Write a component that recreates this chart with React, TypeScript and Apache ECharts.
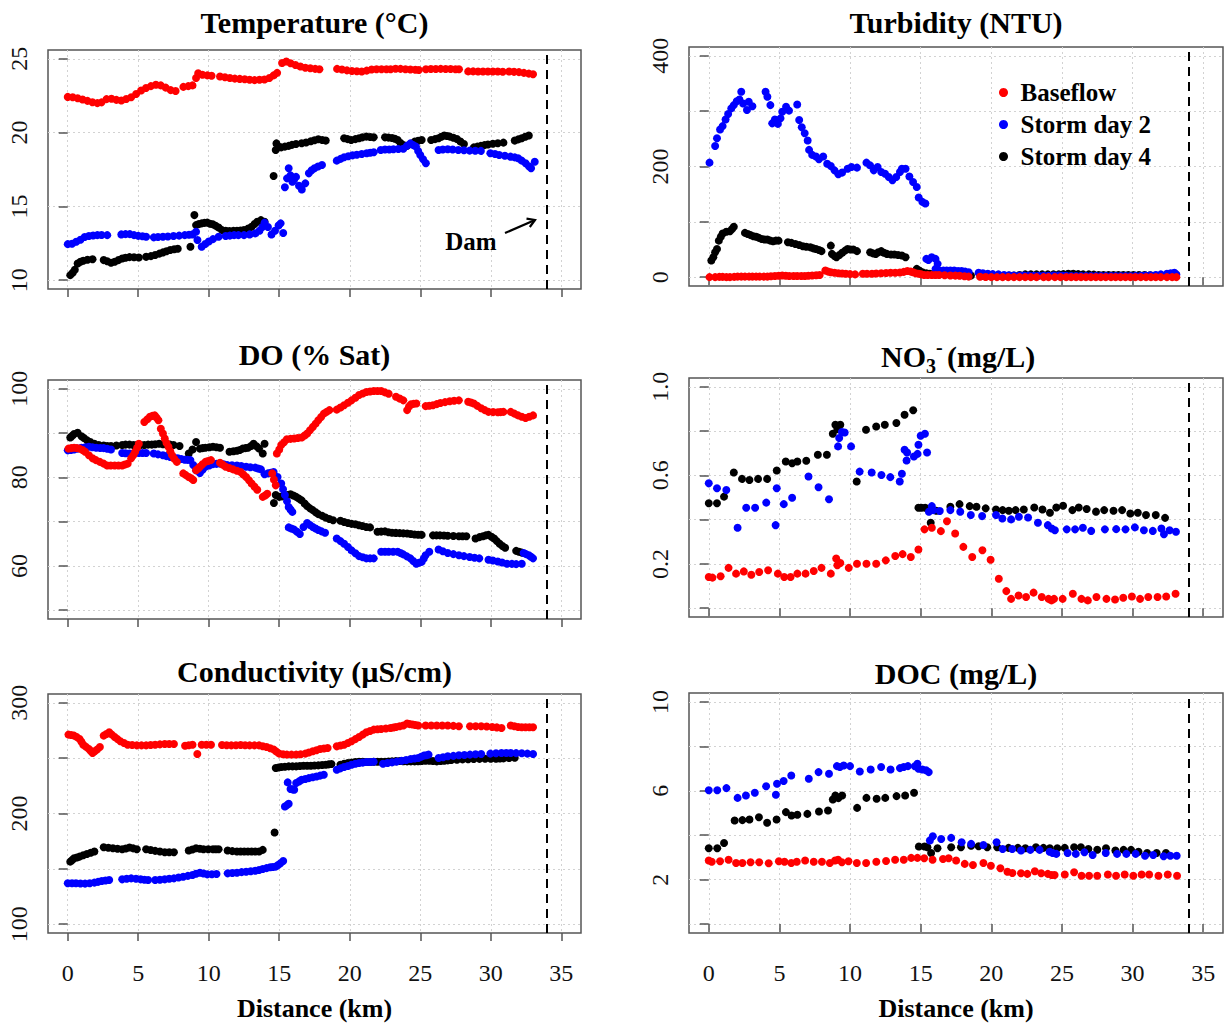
import React, { useEffect, useRef } from "react";
import * as echarts from "echarts";

type Pt = [number, number];

// ---------- Distance axis ----------
const KM_TICKS = [0, 5, 10, 15, 20, 25, 30, 35];
const DAM_KM = 34;
const SERIES_NAMES = ["Baseflow", "Storm day 2", "Storm day 4"];

// ---------- Temperature (°C) ----------
const tempTicks = [10, 15, 20, 25];
const tempLabels = [10, 15, 20, 25];
const tempBase: Pt[] = [
  [0.0, 22.42], [0.35, 22.4], [0.7, 22.33], [1.05, 22.25], [1.4, 22.15], [1.75, 22.06], [2.1, 22.0], [2.4, 22.05], [2.75, 22.27], [3.1, 22.3], [3.45, 22.22], [3.8, 22.18], [4.15, 22.28], [4.5, 22.4], [4.85, 22.62], [5.2, 22.85], [5.55, 23.02], [5.9, 23.15], [6.25, 23.25], [6.6, 23.2], [6.95, 23.05], [7.3, 22.88], [7.65, 22.82],
  [8.2, 23.1], [8.55, 23.15], [8.85, 23.2], [9.1, 23.7], [9.25, 24.02], [9.55, 23.92], [9.9, 23.88], [10.2, 23.85],
  [10.8, 23.8], [11.15, 23.75], [11.5, 23.7], [11.85, 23.66], [12.2, 23.64], [12.55, 23.62], [12.9, 23.58], [13.25, 23.56], [13.6, 23.58], [13.95, 23.6], [14.3, 23.7], [14.6, 23.88], [14.85, 24.05],
  [15.2, 24.72], [15.5, 24.82], [15.8, 24.7], [16.15, 24.58], [16.5, 24.48], [16.85, 24.4], [17.2, 24.36], [17.55, 24.32], [17.85, 24.3],
  [19.1, 24.32], [19.45, 24.28], [19.8, 24.22], [20.15, 24.18], [20.5, 24.16], [20.85, 24.14], [21.2, 24.2], [21.55, 24.28], [21.9, 24.3], [22.25, 24.3], [22.6, 24.3], [22.9, 24.3], [23.25, 24.33], [23.6, 24.32], [23.95, 24.3], [24.3, 24.28], [24.65, 24.26], [24.9, 24.25],
  [25.4, 24.3], [25.75, 24.31], [26.1, 24.31], [26.45, 24.32], [26.8, 24.31], [27.15, 24.31], [27.5, 24.3], [27.75, 24.3],
  [28.4, 24.15], [28.75, 24.15], [29.1, 24.14], [29.45, 24.14], [29.8, 24.14], [30.15, 24.14], [30.5, 24.14], [30.85, 24.13],
  [31.3, 24.14], [31.65, 24.12], [32.0, 24.1], [32.35, 24.05], [32.7, 24.0], [33.0, 23.96],
];
const tempStorm2: Pt[] = [
  [0.0, 12.44], [0.3, 12.47], [0.6, 12.6], [0.9, 12.74], [1.2, 12.92], [1.5, 12.99], [1.8, 13.03], [2.1, 13.05], [2.4, 13.06], [2.8, 13.05],
  [3.8, 13.1], [4.1, 13.12], [4.4, 13.12], [4.7, 13.05], [5.0, 13.0], [5.3, 12.97], [5.56, 12.94],
  [6.1, 12.9], [6.4, 12.92], [6.75, 12.94], [7.1, 12.96], [7.5, 12.99], [7.9, 13.02], [8.3, 13.05], [8.6, 13.08], [8.85, 13.1], [9.1, 13.28], [9.2, 12.72],
  [9.5, 12.26], [9.75, 12.45], [10.0, 12.62], [10.3, 12.78], [10.7, 12.94],
  [11.2, 12.99], [11.5, 13.02], [11.8, 13.05], [12.1, 13.05], [12.5, 13.05], [12.9, 13.1], [13.3, 13.17], [13.6, 13.35], [13.8, 13.6], [13.96, 13.9], [14.2, 13.6], [14.45, 13.1], [14.7, 13.35], [14.95, 13.7], [15.1, 13.85], [15.28, 13.2],
  [15.4, 16.3], [15.55, 16.9], [15.67, 17.58], [15.8, 17.1], [15.93, 16.67], [16.05, 16.8], [16.19, 17.0], [16.4, 16.4], [16.6, 16.15], [16.85, 16.56], [17.1, 17.24], [17.3, 17.45], [17.5, 17.58], [17.75, 17.7], [18.03, 17.8],
  [19.08, 18.1], [19.35, 18.22], [19.6, 18.33], [19.9, 18.4], [20.2, 18.46], [20.5, 18.5], [20.85, 18.55], [21.2, 18.6], [21.45, 18.64], [21.7, 18.67],
  [22.2, 18.82], [22.5, 18.85], [22.8, 18.86], [23.1, 18.87], [23.45, 18.89], [23.8, 18.91], [24.05, 19.1], [24.3, 19.27], [24.5, 19.15], [24.7, 19.05], [24.85, 18.75], [25.0, 18.48], [25.2, 18.2], [25.4, 17.92],
  [26.3, 18.82], [26.6, 18.85], [26.95, 18.87], [27.3, 18.85], [27.7, 18.82], [28.1, 18.8], [28.5, 18.78], [28.9, 18.77], [29.3, 18.76],
  [29.97, 18.6], [30.3, 18.55], [30.6, 18.48], [31.0, 18.43], [31.4, 18.37], [31.7, 18.32], [31.94, 18.26], [32.2, 18.1], [32.47, 17.92], [32.7, 17.72], [32.86, 17.58], [33.12, 18.03],
];
const tempStorm4: Pt[] = [
  [0.18, 10.34], [0.35, 10.5], [0.5, 10.7], [0.7, 11.13], [0.9, 11.25], [1.1, 11.31], [1.4, 11.38], [1.76, 11.42],
  [2.55, 11.36], [2.8, 11.28], [3.07, 11.18], [3.33, 11.25], [3.6, 11.36], [3.86, 11.47], [4.1, 11.52], [4.38, 11.56], [4.7, 11.55], [5.04, 11.54],
  [5.56, 11.58], [5.9, 11.63], [6.2, 11.7], [6.5, 11.8], [6.75, 11.88], [7.0, 11.96], [7.27, 12.04], [7.55, 12.1], [7.8, 12.13],
  [8.7, 12.26], [8.98, 14.41], [9.1, 13.73], [9.3, 13.8], [9.5, 13.85], [9.7, 13.88], [9.9, 13.9], [10.1, 13.82], [10.3, 13.78], [10.5, 13.68], [10.7, 13.57],
  [10.94, 13.39], [11.2, 13.35], [11.47, 13.33], [11.75, 13.34], [12.0, 13.35], [12.25, 13.37], [12.5, 13.4], [12.8, 13.5], [13.04, 13.62], [13.25, 13.8], [13.44, 13.96], [13.7, 14.07], [13.96, 13.96],
  [14.6, 17.06], [14.75, 18.82], [14.8, 19.27], [14.95, 19.05], [15.14, 19.0], [15.4, 19.05], [15.67, 19.1], [15.9, 19.17], [16.19, 19.23],
  [16.59, 19.28], [16.9, 19.33], [17.24, 19.41], [17.5, 19.48], [17.77, 19.55], [18.05, 19.5], [18.3, 19.46],
  [19.6, 19.62], [19.85, 19.56], [20.1, 19.5], [20.4, 19.56], [20.66, 19.62], [20.9, 19.68], [21.18, 19.73], [21.45, 19.7], [21.7, 19.68],
  [22.5, 19.68], [22.75, 19.66], [23.0, 19.64], [23.2, 19.58], [23.4, 19.5], [23.6, 19.3], [23.8, 19.16], [24.07, 19.1], [24.35, 19.25], [24.6, 19.39], [24.85, 19.45], [25.1, 19.5],
  [25.77, 19.5], [26.05, 19.56], [26.3, 19.62], [26.5, 19.72], [26.7, 19.8], [26.9, 19.77], [27.1, 19.73], [27.35, 19.65], [27.6, 19.57], [27.85, 19.4], [28.1, 19.23],
  [28.8, 19.0], [29.05, 19.05], [29.3, 19.1], [29.55, 19.15], [29.8, 19.19], [30.15, 19.24], [30.5, 19.28], [30.9, 19.32],
  [31.7, 19.46], [31.95, 19.54], [32.2, 19.62], [32.45, 19.72], [32.7, 19.8],
];

// ---------- Turbidity (NTU) ----------
const turbTicks = [0, 100, 200, 300, 400];
const turbLabels = [0, 200, 400];
const turbBase: Pt[] = [
  [0.05, 0], [0.45, 0], [0.75, 0.5], [0.98, 0.5], [1.25, 0], [1.5, 0], [1.8, 0.5], [2.04, 1], [2.3, 1], [2.56, 1], [2.85, 1], [3.09, 1], [3.35, 1], [3.6, 1], [3.9, 1], [4.15, 1], [4.4, 1.5], [4.68, 2], [4.95, 2.5], [5.2, 3], [5.45, 2.5], [5.7, 2], [6.0, 2], [6.26, 2], [6.55, 2], [6.8, 2], [7.05, 2.5], [7.32, 3], [7.6, 3.5], [7.85, 4],
  [8.25, 12], [8.45, 10], [8.64, 9], [8.9, 8], [9.17, 7], [9.45, 6.5], [9.7, 6], [10.0, 5.5], [10.36, 5],
  [10.9, 6], [11.2, 6], [11.55, 6], [11.85, 6.5], [12.21, 7], [12.55, 7.5], [12.87, 8], [13.2, 8], [13.53, 8.5], [13.8, 9.5], [14.06, 11], [14.3, 10], [14.46, 9], [14.65, 7], [14.86, 6], [15.05, 5], [15.25, 4], [15.5, 4], [15.78, 4], [16.05, 4], [16.3, 4], [16.7, 3.5], [17.1, 3], [17.45, 2.7], [17.76, 2.4], [18.1, 1.5], [18.4, 1],
  [19.2, 0.6], [19.6, 0.3], [20.0, 0], [20.4, 0], [20.8, 0], [21.2, 0], [21.6, 0], [22.0, 0], [22.4, 0], [22.8, 0], [23.2, 0], [23.7, 0], [24.05, 0], [24.5, 0], [24.9, 0], [25.3, 0], [25.65, 0], [26.0, 0], [26.35, 0], [26.7, 0], [27.05, 0], [27.4, 0], [27.75, 0], [28.1, 0], [28.47, 0], [28.8, 0], [29.15, 0], [29.5, 0], [29.85, 0], [30.2, 0], [30.58, 0], [30.95, 0], [31.3, 0], [31.64, 0], [32.0, 0], [32.43, 0], [32.8, 0], [33.1, 0],
];
const turbStorm2: Pt[] = [
  [0.05, 207], [0.45, 237], [0.58, 251], [0.8, 267], [0.98, 273], [1.19, 285], [1.37, 295], [1.59, 305], [1.77, 311], [1.98, 318], [2.17, 321], [2.3, 335], [2.43, 314], [2.7, 302], [2.83, 317], [3.09, 309],
  [4.02, 335], [4.15, 326], [4.36, 311], [4.49, 278], [4.68, 285], [4.89, 277], [5.08, 287], [5.2, 299], [5.47, 308], [5.68, 301],
  [6.26, 312], [6.4, 284], [6.58, 271], [6.79, 260], [7.0, 247], [7.1, 230], [7.32, 221], [7.59, 218], [7.8, 213], [8.1, 218], [8.38, 205], [8.64, 201], [8.9, 193], [9.17, 186], [9.44, 189], [9.83, 196], [10.1, 199], [10.49, 198],
  [11.16, 207], [11.42, 202], [11.68, 193], [11.95, 199], [12.21, 190], [12.48, 187], [12.74, 181], [13.0, 175], [13.27, 181], [13.53, 190], [13.67, 196], [13.93, 196], [14.2, 182], [14.46, 172], [14.72, 163], [14.86, 144], [15.12, 136], [15.33, 133],
  [15.4, 33], [15.55, 31], [15.78, 36], [16.05, 33], [16.2, 24], [16.05, 15], [16.3, 12], [16.6, 12], [16.84, 12], [17.1, 12], [17.37, 12], [17.65, 11], [17.9, 11], [18.15, 10], [18.4, 9],
  [19.1, 8], [19.4, 7], [19.75, 6], [20.1, 5.5], [20.5, 5], [20.9, 4], [21.25, 3.5], [21.6, 3], [22.0, 3], [22.3, 3], [22.65, 3], [23.0, 2.5], [23.35, 2.4], [23.7, 2.4], [24.05, 2.6], [24.4, 3], [24.77, 3], [25.05, 2.6], [25.3, 2.4], [25.65, 2.2], [26.0, 2], [26.35, 2], [26.7, 2], [27.05, 2], [27.4, 2], [27.75, 2], [28.1, 2], [28.47, 2], [28.8, 2], [29.15, 2], [29.5, 2], [29.85, 2.2], [30.2, 2.3], [30.58, 2.4], [30.9, 3], [31.25, 3.5], [31.64, 4], [32.0, 5], [32.43, 6], [32.7, 7], [32.96, 8], [33.1, 5],
];
const turbStorm4: Pt[] = [
  [0.18, 30], [0.32, 36], [0.45, 45], [0.58, 51], [0.71, 66], [0.85, 73], [0.98, 79], [1.24, 82], [1.5, 83], [1.65, 87], [1.77, 91],
  [2.56, 80], [2.76, 78], [2.96, 76], [3.16, 74], [3.36, 73], [3.55, 71], [3.75, 69], [3.95, 68], [4.15, 68], [4.35, 66], [4.55, 65], [4.75, 66], [4.94, 66],
  [5.6, 63], [5.85, 62], [6.13, 60], [6.4, 58], [6.66, 56], [6.9, 55], [7.19, 54], [7.4, 52], [7.59, 51], [7.8, 49], [7.98, 47],
  [8.64, 57], [8.72, 42], [8.9, 38], [9.04, 36], [9.25, 40], [9.44, 44], [9.65, 48], [9.83, 51], [10.03, 50], [10.23, 50], [10.49, 47],
  [11.42, 45], [11.62, 43], [11.82, 42], [12.0, 45], [12.21, 47], [12.4, 44], [12.61, 42], [12.9, 41], [13.14, 41], [13.4, 40], [13.67, 39], [13.93, 36],
  [14.72, 15], [14.9, 12], [15.12, 9], [15.4, 7], [15.65, 6], [15.95, 5], [16.3, 5], [16.7, 5], [17.1, 5], [17.5, 5], [17.9, 5], [18.25, 4], [18.56, 3],
  [19.35, 2.4], [19.7, 2.4], [20.1, 2.4], [20.5, 2.4], [20.9, 2.6], [21.25, 2.8], [21.6, 3], [22.0, 4], [22.4, 5], [22.8, 5], [23.2, 5], [23.6, 5], [24.0, 5], [24.4, 5], [24.77, 5], [25.1, 5.5], [25.45, 6], [25.8, 6], [26.15, 5.5], [26.5, 5], [26.9, 5], [27.25, 4.5], [27.6, 4], [27.94, 4], [28.3, 4], [28.65, 4], [29.0, 4], [29.35, 4], [29.7, 4], [30.06, 4], [30.45, 4], [30.85, 4], [31.25, 3.5], [31.64, 3], [32.0, 3], [32.43, 3],
];

// ---------- DO (% Sat) ----------
const doTicks = [50, 60, 70, 80, 90, 100];
const doLabels = [60, 80, 100];
const doBase: Pt[] = [
  [0.05, 86.5], [0.25, 86.6], [0.45, 86.7], [0.65, 86.6], [0.84, 86.5], [1.05, 86.2], [1.23, 85.8], [1.5, 85.0], [1.76, 84.3], [2.0, 83.9], [2.28, 83.5], [2.55, 83.1], [2.8, 82.7], [3.05, 82.7], [3.33, 82.7], [3.6, 82.7], [3.86, 82.7], [4.05, 82.9], [4.25, 83.1], [4.5, 84.3], [4.65, 85.0], [4.78, 85.8], [4.92, 86.7], [5.04, 87.6],
  [5.43, 92.5], [5.63, 93.1], [5.83, 93.7], [6.0, 93.9], [6.17, 94.0], [6.3, 93.5], [6.43, 92.9], [6.6, 91.0], [6.75, 89.9], [6.88, 88.8], [7.0, 87.8], [7.14, 86.9], [7.27, 85.9], [7.4, 85.0], [7.55, 84.2], [7.74, 83.5],
  [8.19, 80.9], [8.38, 80.5], [8.58, 80.1], [8.75, 79.8], [8.9, 79.4], [9.1, 81.6], [9.25, 82.0], [9.37, 82.4], [9.56, 82.95], [9.76, 83.5], [9.95, 83.7], [10.16, 83.9],
  [10.8, 83.3], [11.0, 82.85], [11.2, 82.4], [11.45, 82.1], [11.73, 81.8], [12.0, 81.5], [12.26, 81.2], [12.45, 80.65], [12.65, 80.1], [12.85, 79.35], [13.04, 78.6], [13.25, 77.9], [13.44, 77.2],
  [13.83, 75.6], [14.0, 75.9], [14.15, 76.3], [14.5, 80.9], [14.62, 79.5], [14.75, 78.2],
  [14.83, 85.4], [15.0, 86.3], [15.14, 87.3], [15.34, 87.95], [15.54, 88.6], [15.8, 88.7], [16.06, 88.8], [16.32, 88.9], [16.59, 89.0], [16.8, 89.45], [16.98, 89.9], [17.18, 90.65], [17.38, 91.4], [17.58, 92.15], [17.77, 92.9], [17.97, 93.65], [18.16, 94.4], [18.36, 94.8], [18.56, 95.2],
  [19.08, 95.3], [19.34, 95.8], [19.6, 96.3], [19.87, 96.85], [20.13, 97.4], [20.4, 98.0], [20.66, 98.6], [20.92, 98.95], [21.18, 99.3], [21.44, 99.4], [21.7, 99.5], [21.97, 99.5], [22.23, 99.5], [22.5, 99.2], [22.76, 98.9],
  [23.28, 98.2], [23.54, 97.8], [23.8, 97.4], [24.07, 95.2], [24.2, 96.0], [24.33, 96.5], [24.52, 96.6], [24.72, 96.7],
  [25.38, 96.1], [25.64, 96.2], [25.9, 96.3], [26.17, 96.55], [26.43, 96.8], [26.76, 97.0], [27.09, 97.2], [27.4, 97.3], [27.74, 97.4],
  [28.4, 97.1], [28.6, 96.9], [28.8, 96.7], [29.05, 96.15], [29.32, 95.6], [29.58, 95.2], [29.84, 94.8], [30.17, 94.75], [30.5, 94.7], [30.7, 94.75], [30.9, 94.8],
  [31.42, 94.8], [31.68, 94.4], [31.94, 94.0], [32.2, 93.7], [32.47, 93.4], [32.73, 93.7], [33.0, 94.0],
];
const doStorm2: Pt[] = [
  [0.0, 86.1], [0.22, 86.2], [0.45, 86.3], [0.7, 86.5], [0.97, 86.7], [1.25, 86.8], [1.5, 86.9], [1.75, 86.8], [2.02, 86.7], [2.3, 86.65], [2.55, 86.6], [2.8, 86.45], [3.07, 86.3],
  [3.86, 85.5], [4.1, 85.45], [4.38, 85.4], [4.7, 85.45], [5.04, 85.5], [5.3, 85.5], [5.56, 85.5],
  [6.1, 85.4], [6.4, 85.2], [6.75, 85.0], [7.0, 84.8], [7.27, 84.6], [7.55, 84.45], [7.8, 84.3], [8.05, 84.15], [8.3, 84.0], [8.5, 83.95], [8.7, 83.9], [8.9, 82.8], [9.1, 81.6], [9.37, 81.0], [9.56, 81.7], [9.76, 82.4], [10.03, 82.7], [10.3, 83.0], [10.55, 83.05], [10.8, 83.1],
  [11.05, 82.95], [11.3, 82.8], [11.65, 82.75], [12.0, 82.7], [12.3, 82.55], [12.65, 82.4], [12.95, 82.3], [13.3, 82.2], [13.5, 82.0], [13.7, 81.8], [13.96, 80.7], [14.2, 80.9], [14.4, 81.05], [14.6, 81.2], [14.88, 80.1], [15.14, 78.6], [15.27, 77.3], [15.4, 76.0], [15.55, 74.6], [15.67, 73.3], [15.8, 72.75], [15.93, 72.2],
  [15.67, 68.7], [15.86, 68.45], [16.06, 68.2], [16.26, 67.7], [16.46, 67.2], [16.72, 68.8], [16.98, 69.7], [17.18, 69.25], [17.38, 68.8], [17.58, 68.45], [17.77, 68.1], [18.0, 67.8], [18.25, 67.5],
  [19.08, 66.2], [19.34, 65.6], [19.6, 65.0], [19.87, 64.25], [20.13, 63.5], [20.4, 62.85], [20.66, 62.2], [20.92, 61.95], [21.18, 61.7], [21.44, 61.7], [21.7, 61.7],
  [22.23, 63.2], [22.5, 63.2], [22.76, 63.2], [23.08, 63.2], [23.4, 63.2], [23.6, 62.9], [23.8, 62.6], [24.05, 62.15], [24.3, 61.7], [24.5, 61.1], [24.72, 60.5], [24.9, 60.7], [25.1, 60.9], [25.25, 61.65], [25.38, 62.4], [25.64, 63.2],
  [26.3, 63.7], [26.6, 63.3], [26.95, 62.9], [27.35, 62.65], [27.74, 62.4], [28.1, 62.2], [28.5, 62.0], [28.85, 61.85], [29.19, 61.7],
  [29.84, 61.4], [30.15, 61.2], [30.5, 61.0], [30.8, 60.75], [31.15, 60.5], [31.5, 60.45], [31.8, 60.4], [32.2, 60.5],
  [32.33, 62.9], [32.5, 62.65], [32.7, 62.4], [32.85, 62.05], [33.0, 61.7],
];
const doStorm4: Pt[] = [
  [0.18, 89.0], [0.32, 89.4], [0.45, 89.8], [0.7, 90.1], [0.97, 89.3], [1.15, 88.9], [1.36, 88.4], [1.6, 88.0], [1.89, 87.6], [2.2, 87.3], [2.55, 87.2], [2.8, 87.1], [3.07, 87.1], [3.45, 87.2], [3.86, 87.3], [4.1, 87.4], [4.38, 87.4], [4.65, 87.3], [4.9, 87.3], [5.15, 87.3], [5.43, 87.3], [5.7, 87.4], [5.96, 87.4], [6.2, 87.5], [6.48, 87.6], [6.75, 87.5], [7.0, 87.4], [7.25, 87.4], [7.5, 87.3], [7.93, 87.1],
  [8.58, 85.4], [8.85, 86.3], [9.1, 88.0], [9.37, 86.5], [9.56, 86.6], [9.76, 86.7], [10.05, 86.8], [10.3, 86.9], [10.55, 86.8], [10.8, 86.7],
  [11.47, 85.8], [11.75, 85.9], [12.0, 86.0], [12.2, 86.2], [12.4, 86.5], [12.6, 86.6], [12.78, 86.7], [13.0, 87.1], [13.18, 87.6], [13.4, 87.0], [13.57, 86.5], [13.83, 85.4], [13.96, 87.6],
  [14.62, 74.2], [14.75, 76.0], [15.0, 75.6], [15.2, 75.7], [15.4, 75.8], [15.6, 76.0], [15.8, 76.2], [16.0, 75.9], [16.2, 75.6], [16.4, 75.2], [16.59, 74.8], [16.8, 74.1], [16.98, 73.5], [17.18, 73.0], [17.38, 72.6], [17.58, 72.1], [17.77, 71.7], [18.05, 71.3], [18.3, 70.9], [18.55, 70.6], [18.82, 70.3],
  [19.34, 70.2], [19.6, 69.9], [19.87, 69.7], [20.13, 69.5], [20.4, 69.4], [20.65, 69.2], [20.9, 69.0], [21.17, 68.8], [21.44, 68.7],
  [21.97, 67.7], [22.23, 67.75], [22.5, 67.8], [22.75, 67.6], [23.0, 67.5], [23.27, 67.45], [23.54, 67.4], [23.8, 67.35], [24.07, 67.3], [24.33, 67.2], [24.6, 67.1], [24.85, 67.05], [25.1, 67.0],
  [25.9, 66.9], [26.15, 66.9], [26.4, 66.9], [26.68, 66.85], [26.95, 66.8], [27.35, 66.75], [27.74, 66.7], [28.0, 66.7], [28.27, 66.7],
  [28.92, 66.2], [29.2, 66.5], [29.45, 66.7], [29.65, 66.9], [29.84, 67.0], [30.05, 66.6], [30.24, 66.2], [30.43, 65.6], [30.63, 65.0], [30.83, 64.5], [31.02, 64.1],
  [31.8, 63.4], [32.0, 63.2], [32.2, 63.0],
];

// ---------- NO3- (mg/L) ----------
const no3Ticks = [0, 0.2, 0.4, 0.6, 0.8, 1.0];
const no3Labels = [0.2, 0.6, 1.0];
const no3Base: Pt[] = [
  [0.0, 0.141], [0.26, 0.138], [0.84, 0.144], [1.4, 0.182], [1.93, 0.156], [2.48, 0.166], [3.01, 0.151], [3.57, 0.163], [4.2, 0.171], [4.89, 0.156], [5.34, 0.141], [5.79, 0.141], [6.27, 0.156], [6.85, 0.156], [7.43, 0.168], [7.98, 0.182], [8.64, 0.156], [9.02, 0.224], [9.1, 0.194], [9.31, 0.204], [9.91, 0.182], [10.49, 0.201], [11.16, 0.201], [11.85, 0.201], [12.53, 0.216], [13.2, 0.236], [13.72, 0.244], [14.3, 0.231], [14.84, 0.265],
  [15.27, 0.356], [15.79, 0.363], [16.43, 0.348], [16.86, 0.393], [17.44, 0.337], [18.02, 0.277], [18.65, 0.231], [19.37, 0.262], [19.95, 0.219], [20.53, 0.133], [21.06, 0.077], [21.4, 0.042], [21.93, 0.057], [22.46, 0.05], [22.99, 0.07], [23.57, 0.05], [24.05, 0.042], [24.26, 0.035], [24.44, 0.042], [25.05, 0.042], [25.77, 0.065], [26.38, 0.042], [26.83, 0.035], [27.44, 0.05], [28.15, 0.042], [28.76, 0.039], [29.34, 0.047], [29.95, 0.053], [30.53, 0.042], [31.11, 0.05], [31.77, 0.05], [32.38, 0.053], [33.04, 0.065],
];
const no3Storm2: Pt[] = [
  [0.0, 0.564], [0.58, 0.542], [1.24, 0.534], [2.04, 0.363], [2.65, 0.454], [3.28, 0.454], [4.07, 0.477], [4.73, 0.375], [4.81, 0.542], [5.31, 0.47], [5.9, 0.499], [7.06, 0.595], [7.77, 0.546], [8.51, 0.492], [9.15, 0.731], [9.23, 0.769], [9.42, 0.796], [9.62, 0.794], [10.07, 0.731], [10.68, 0.617], [11.53, 0.613], [12.22, 0.602], [12.85, 0.592], [13.52, 0.572], [13.67, 0.607], [13.86, 0.716], [14.04, 0.703], [14.0, 0.667], [14.52, 0.685], [14.78, 0.697], [14.84, 0.738], [15.0, 0.779], [15.3, 0.788], [15.45, 0.703],
  [15.58, 0.436], [15.79, 0.461], [15.9, 0.443], [16.35, 0.439], [17.1, 0.443], [17.8, 0.436], [18.55, 0.421], [19.35, 0.416], [20.33, 0.421], [20.78, 0.405], [21.4, 0.401], [21.95, 0.413], [22.6, 0.41], [23.3, 0.386], [24.0, 0.375], [24.28, 0.36], [24.5, 0.352], [25.34, 0.356], [25.93, 0.356], [26.48, 0.363], [27.07, 0.349], [28.04, 0.356], [28.84, 0.357], [29.5, 0.356], [30.16, 0.365], [30.8, 0.352], [31.43, 0.349], [32.04, 0.36], [32.22, 0.334], [32.62, 0.352], [33.07, 0.345],
];
const no3Storm4: Pt[] = [
  [0.0, 0.474], [0.58, 0.474], [1.08, 0.504], [1.77, 0.613], [2.35, 0.584], [2.88, 0.579], [3.49, 0.584], [4.13, 0.584], [4.81, 0.622], [5.45, 0.663], [5.9, 0.655], [6.27, 0.663], [6.9, 0.666], [7.72, 0.693], [8.36, 0.693], [8.78, 0.788], [8.96, 0.829], [9.1, 0.809], [9.31, 0.829], [10.47, 0.572], [11.13, 0.806], [11.85, 0.821], [12.46, 0.829], [13.28, 0.837], [13.86, 0.874], [14.47, 0.894],
  [14.84, 0.454], [15.05, 0.454], [15.32, 0.454], [15.58, 0.443], [15.71, 0.386], [16.1, 0.44], [17.1, 0.458], [17.75, 0.47], [18.47, 0.461], [18.95, 0.458], [19.6, 0.451], [20.33, 0.446], [20.8, 0.443], [21.24, 0.44], [21.72, 0.443], [22.3, 0.446], [23.04, 0.455], [23.62, 0.446], [24.15, 0.431], [24.6, 0.455], [25.08, 0.463], [25.74, 0.443], [26.19, 0.455], [26.75, 0.448], [27.41, 0.436], [27.99, 0.443], [28.65, 0.44], [29.26, 0.443], [29.84, 0.428], [30.37, 0.431], [30.95, 0.421], [31.64, 0.421], [32.3, 0.408],
];

// ---------- Conductivity (µS/cm) ----------
const condTicks = [100, 150, 200, 250, 300];
const condLabels = [100, 200, 300];
const condBase: Pt[] = [
  [0.05, 271.3], [0.25, 270.9], [0.45, 270.4], [0.65, 269.0], [0.84, 267.4], [0.97, 264.8], [1.1, 262.2], [1.3, 260.2], [1.5, 258.3], [1.63, 256.5], [1.76, 254.7], [1.92, 256.2], [2.07, 257.7], [2.28, 260.1],
  [2.55, 270.4], [2.75, 271.9], [2.94, 273.4], [3.13, 271.3], [3.33, 269.2], [3.53, 267.2], [3.73, 265.3], [3.99, 263.7], [4.25, 262.2], [4.57, 261.9], [4.9, 261.6], [5.23, 261.6], [5.56, 261.6], [5.88, 261.9], [6.2, 262.2], [6.54, 262.5], [6.88, 262.8], [7.2, 262.8], [7.53, 262.8],
  [8.32, 261.3], [8.58, 261.7], [8.85, 262.2], [9.19, 253.8], [9.5, 262.2], [9.83, 262.2], [10.16, 262.2],
  [10.94, 261.9], [11.27, 261.7], [11.6, 261.6], [11.93, 261.7], [12.26, 261.9], [12.58, 261.7], [12.9, 261.6], [13.24, 261.6], [13.57, 261.6], [13.83, 260.8], [14.1, 260.1], [14.36, 258.9], [14.62, 257.7], [14.8, 255.9], [15.0, 254.1], [15.27, 253.6], [15.54, 253.2], [15.87, 253.2], [16.2, 253.2], [16.52, 253.6], [16.85, 254.1], [17.1, 255.1], [17.38, 256.2], [17.64, 257.2], [17.9, 258.3], [18.17, 258.7], [18.43, 259.2],
  [19.08, 260.7], [19.34, 261.4], [19.6, 262.2], [19.87, 263.7], [20.13, 265.3], [20.4, 267.2], [20.66, 269.2], [20.92, 271.3], [21.18, 273.4], [21.44, 274.6], [21.7, 275.8], [21.97, 276.1], [22.23, 276.4], [22.56, 276.8], [22.89, 277.3], [23.1, 277.7], [23.28, 278.2], [23.54, 278.8], [23.8, 279.5], [24.07, 281.3], [24.26, 280.8], [24.46, 280.4], [24.66, 280.0], [24.86, 279.5],
  [25.38, 279.5], [25.78, 279.5], [26.17, 279.5], [26.56, 279.5], [26.95, 279.5], [27.35, 279.2], [27.74, 278.9],
  [28.53, 278.9], [28.93, 278.9], [29.32, 278.9], [29.71, 278.6], [30.1, 278.2], [30.43, 277.8], [30.76, 277.3],
  [31.42, 279.5], [31.68, 278.9], [31.94, 278.2], [32.2, 278.0], [32.47, 277.9], [32.74, 277.9], [33.0, 277.9],
];
const condStorm2: Pt[] = [
  [0.0, 136.9], [0.3, 136.9], [0.58, 136.9], [0.9, 136.8], [1.23, 136.6], [1.56, 137.0], [1.89, 137.5], [2.15, 138.2], [2.41, 139.0], [2.68, 139.5], [2.94, 139.9],
  [3.86, 140.5], [4.18, 141.0], [4.5, 141.4], [4.84, 141.0], [5.17, 140.5], [5.44, 140.2], [5.7, 139.9],
  [6.2, 139.9], [6.54, 140.2], [6.88, 140.5], [7.2, 141.0], [7.53, 141.4], [7.86, 142.1], [8.19, 142.9], [8.52, 143.6], [8.85, 144.4], [9.1, 145.5], [9.37, 146.5], [9.63, 145.8], [9.9, 145.0], [10.22, 145.1], [10.55, 145.3],
  [11.34, 145.9], [11.67, 146.2], [12.0, 146.5], [12.33, 147.0], [12.65, 147.4], [12.98, 147.8], [13.3, 148.3], [13.57, 149.0], [13.83, 149.8], [14.1, 150.6], [14.36, 151.4], [14.55, 151.7], [14.75, 152.0], [14.92, 153.5], [15.09, 155.0], [15.28, 157.1],
  [15.4, 206.3], [15.55, 207.6], [15.67, 208.8], [15.6, 228.1], [15.8, 222.1], [15.93, 221.8], [16.06, 221.5], [16.2, 227.5], [16.4, 229.0], [16.59, 230.5], [16.85, 231.2], [17.1, 232.0], [17.37, 232.8], [17.64, 233.5], [17.9, 234.2], [18.16, 235.0],
  [19.08, 239.6], [19.34, 240.8], [19.6, 242.0], [19.87, 243.0], [20.13, 244.1], [20.4, 244.9], [20.66, 245.6], [20.92, 246.0], [21.18, 246.5], [21.44, 246.6], [21.7, 246.8],
  [22.36, 245.0], [22.68, 245.6], [23.0, 246.2], [23.33, 246.9], [23.67, 247.7], [24.0, 248.4], [24.33, 249.2], [24.6, 249.7], [24.86, 250.2], [25.05, 251.2], [25.25, 252.3], [25.42, 252.7], [25.59, 253.2],
  [26.3, 250.2], [26.62, 250.9], [26.95, 251.7], [27.35, 252.1], [27.74, 252.6], [28.13, 252.9], [28.53, 253.2], [28.92, 253.5], [29.32, 253.8],
  [29.97, 254.1], [30.37, 254.4], [30.76, 254.7], [31.1, 254.7], [31.42, 254.7], [31.8, 254.55], [32.2, 254.4], [32.6, 254.1], [33.0, 253.8],
];
const condStorm4: Pt[] = [
  [0.18, 156.5], [0.32, 158.0], [0.45, 159.5], [0.65, 160.3], [0.84, 161.0], [1.1, 162.2], [1.36, 163.4], [1.63, 164.5], [1.89, 165.6],
  [2.55, 169.5], [2.88, 169.0], [3.2, 168.6], [3.53, 168.2], [3.86, 167.7], [4.12, 168.4], [4.38, 169.2], [4.64, 168.5], [4.9, 167.7],
  [5.56, 167.7], [5.88, 167.0], [6.2, 166.2], [6.54, 165.6], [6.88, 165.0], [7.2, 165.0], [7.53, 165.0],
  [8.58, 166.5], [8.84, 167.5], [9.1, 168.6], [9.37, 168.2], [9.63, 167.7], [9.97, 167.7], [10.3, 167.7], [10.5, 167.7], [10.7, 167.7],
  [11.34, 166.5], [11.67, 166.0], [12.0, 165.6], [12.26, 165.6], [12.52, 165.6], [12.78, 165.6], [13.04, 165.6], [13.3, 165.6], [13.57, 165.6], [13.83, 167.1],
  [14.67, 182.8], [14.75, 241.1], [14.95, 241.6], [15.14, 242.0], [15.4, 242.3], [15.67, 242.6], [15.94, 242.6], [16.2, 242.6], [16.46, 242.9], [16.72, 243.2], [16.98, 243.2], [17.24, 243.2], [17.5, 243.4], [17.77, 243.5], [18.04, 243.8], [18.3, 244.1], [18.5, 244.4], [18.7, 244.7],
  [19.34, 244.1], [19.6, 244.9], [19.87, 245.6], [20.13, 246.0], [20.4, 246.5], [20.66, 246.7], [20.92, 246.8], [21.18, 246.6], [21.44, 246.5], [21.7, 246.7], [21.97, 246.8], [22.23, 246.8], [22.5, 246.8], [22.75, 247.0], [23.0, 247.1], [23.27, 247.3], [23.54, 247.4], [23.8, 247.2], [24.07, 247.1], [24.33, 247.1], [24.6, 247.1], [24.85, 247.3], [25.1, 247.4], [25.37, 247.6], [25.64, 247.7], [25.9, 247.4], [26.17, 247.1], [26.44, 247.4], [26.7, 247.7], [26.95, 248.0], [27.2, 248.3], [27.6, 248.6], [28.0, 248.9], [28.4, 249.0], [28.79, 249.2], [29.2, 249.4], [29.6, 249.5], [30.0, 249.5], [30.37, 249.5], [30.65, 249.7], [30.9, 249.8], [31.3, 250.1], [31.7, 250.4],
];

// ---------- DOC (mg/L) ----------
const docTicks = [0, 2, 4, 6, 8, 10];
const docLabels = [2, 6, 10];
const docBase: Pt[] = [
  [0.0, 2.86], [0.21, 2.81], [0.8, 2.83], [1.4, 2.9], [1.93, 2.75], [2.38, 2.75], [2.96, 2.78], [3.57, 2.78], [4.24, 2.74], [4.96, 2.83], [5.36, 2.81], [5.84, 2.75], [6.23, 2.81], [6.82, 2.86], [7.43, 2.81], [8.01, 2.81], [8.57, 2.75], [8.94, 2.86], [9.15, 2.9], [9.42, 2.78], [9.89, 2.83], [10.48, 2.75], [11.14, 2.75], [11.86, 2.81], [12.55, 2.84], [13.19, 2.9], [13.8, 2.9], [14.33, 2.98], [14.77, 2.98], [15.25, 2.96], [15.84, 2.9], [16.58, 2.93], [16.98, 2.96], [17.51, 2.86], [18.12, 2.71], [18.7, 2.66], [19.44, 2.75], [19.97, 2.63], [20.64, 2.51], [21.14, 2.36], [21.49, 2.3], [22.1, 2.29], [22.55, 2.26], [23.08, 2.38], [23.53, 2.29], [24.0, 2.26], [24.27, 2.21], [24.48, 2.21], [25.2, 2.23], [25.86, 2.33], [26.39, 2.18], [26.92, 2.18], [27.5, 2.18], [28.25, 2.23], [28.83, 2.18], [29.44, 2.23], [30.05, 2.18], [30.64, 2.23], [31.17, 2.23], [31.83, 2.18], [32.49, 2.23], [33.15, 2.18],
];
const docStorm2: Pt[] = [
  [0.0, 6.02], [0.6, 6.02], [1.25, 6.12], [2.04, 5.68], [2.63, 5.79], [3.26, 5.91], [4.06, 6.2], [4.75, 5.82], [4.83, 6.32], [5.3, 6.44], [5.84, 6.69], [7.08, 6.54], [7.77, 6.84], [8.51, 6.77], [9.07, 7.11], [9.28, 7.07], [9.55, 7.14], [10.0, 7.11], [10.69, 6.87], [11.46, 6.96], [12.2, 7.07], [12.87, 6.96], [13.53, 7.02], [13.8, 7.07], [14.1, 7.11], [14.59, 7.1], [14.77, 7.22], [14.85, 6.99], [15.12, 6.96], [15.38, 6.92], [15.57, 6.84],
  [15.65, 3.76], [15.86, 3.95], [16.45, 3.83], [17.16, 3.88], [17.9, 3.68], [18.57, 3.61], [19.44, 3.56], [20.37, 3.68], [20.8, 3.38], [21.48, 3.38], [22.1, 3.31], [22.76, 3.34], [23.42, 3.34], [24.13, 3.26], [24.34, 3.2], [24.6, 3.16], [25.4, 3.2], [25.98, 3.16], [26.59, 3.23], [27.17, 3.11], [28.1, 3.2], [28.9, 3.16], [29.56, 3.16], [30.22, 3.16], [30.88, 3.08], [31.46, 3.11], [32.2, 3.05], [32.67, 3.08], [33.12, 3.08],
];
const docStorm4: Pt[] = [
  [0.0, 3.41], [0.6, 3.41], [1.08, 3.65], [1.83, 4.66], [2.38, 4.68], [2.88, 4.71], [3.55, 4.81], [4.13, 4.56], [4.8, 4.71], [5.46, 5.04], [5.86, 4.89], [6.27, 4.92], [6.98, 4.96], [7.8, 5.07], [8.44, 5.11], [8.78, 5.61], [8.96, 5.79], [9.18, 5.67], [9.44, 5.79], [10.5, 5.23], [11.16, 5.68], [11.88, 5.64], [12.49, 5.68], [13.29, 5.76], [13.9, 5.79], [14.53, 5.91],
  [14.87, 3.49], [15.27, 3.49], [15.48, 3.46], [15.74, 3.2], [16.19, 3.41], [17.16, 3.46], [17.85, 3.46], [18.57, 3.53], [19.1, 3.5], [19.71, 3.46], [20.42, 3.46], [21.22, 3.43], [21.88, 3.43], [22.41, 3.41], [23.16, 3.46], [23.69, 3.43], [24.14, 3.41], [24.67, 3.41], [25.2, 3.43], [25.86, 3.46], [26.34, 3.46], [26.87, 3.38], [27.5, 3.35], [28.12, 3.41], [28.78, 3.31], [29.36, 3.34], [29.89, 3.34], [30.42, 3.26], [31.03, 3.2], [31.7, 3.2], [32.36, 3.2],
];

// ---------- Styling and layout ----------
const FONT = "Liberation Serif";
const COLORS = ["#ff0000", "#0000ff", "#000000"];
const BOX_COLOR = "#555555";
const GRID_COLOR = "#d2d2d2";

interface Panel {
  title: string;
  ticks: number[];
  labels: number[];
  decimals: number;
  series: Pt[][]; // baseflow, storm day 2, storm day 4
  box: { left: number; top: number; width: number; height: number };
  titleY: number;
  bottom: boolean;
}

const LEFT_COL = 48;
const RIGHT_COL = 689;
const COL_W = 533;

const panels: Panel[] = [
  { title: "Temperature (°C)", ticks: tempTicks, labels: tempLabels, decimals: 0, series: [tempBase, tempStorm2, tempStorm4], box: { left: LEFT_COL, top: 50, width: COL_W, height: 239 }, titleY: 22, bottom: false },
  { title: "Turbidity (NTU)", ticks: turbTicks, labels: turbLabels, decimals: 0, series: [turbBase, turbStorm2, turbStorm4], box: { left: RIGHT_COL, top: 47, width: COL_W + 1, height: 239 }, titleY: 22, bottom: false },
  { title: "DO (% Sat)", ticks: doTicks, labels: doLabels, decimals: 0, series: [doBase, doStorm2, doStorm4], box: { left: LEFT_COL, top: 380, width: COL_W, height: 239 }, titleY: 354, bottom: false },
  { title: "", ticks: no3Ticks, labels: no3Labels, decimals: 1, series: [no3Base, no3Storm2, no3Storm4], box: { left: RIGHT_COL, top: 378, width: COL_W + 1, height: 239 }, titleY: 356, bottom: false },
  { title: "Conductivity (µS/cm)", ticks: condTicks, labels: condLabels, decimals: 0, series: [condBase, condStorm2, condStorm4], box: { left: LEFT_COL, top: 694, width: COL_W, height: 239 }, titleY: 671, bottom: true },
  { title: "DOC (mg/L)", ticks: docTicks, labels: docLabels, decimals: 0, series: [docBase, docStorm2, docStorm4], box: { left: RIGHT_COL, top: 693, width: COL_W + 1, height: 240 }, titleY: 673, bottom: true },
];

// R-style 4% padding around the data range
const padRange = (lo: number, hi: number): [number, number] => {
  const p = (hi - lo) * 0.04;
  return [lo - p, hi + p];
};

function buildOption(): echarts.EChartsCoreOption {
  const [xMin, xMax] = padRange(KM_TICKS[0], KM_TICKS[KM_TICKS.length - 1]);

  const grid = panels.map((p) => ({
    left: p.box.left,
    top: p.box.top,
    width: p.box.width,
    height: p.box.height,
    show: true,
    borderColor: BOX_COLOR,
    borderWidth: 1.5,
    backgroundColor: "transparent",
    containLabel: false,
  }));

  const tickLabel = { fontSize: 24, fontFamily: FONT, fontWeight: "normal", color: "#111" };

  const xAxis = panels.map((p, i) => ({
    type: "value",
    gridIndex: i,
    min: xMin,
    max: xMax,
    axisLine: { show: false },
    axisTick: { show: true, customValues: KM_TICKS, length: 8, lineStyle: { color: BOX_COLOR, width: 1.5 } },
    axisLabel: { show: p.bottom, customValues: KM_TICKS, margin: 28, ...tickLabel },
    splitLine: { show: true, lineStyle: { color: GRID_COLOR, type: [2, 3], width: 1 } },
  }));

  const yAxis = panels.map((p, i) => {
    const [lo, hi] = padRange(p.ticks[0], p.ticks[p.ticks.length - 1]);
    return {
      type: "value",
      gridIndex: i,
      min: lo,
      max: hi,
      axisLine: { show: false },
      axisTick: { show: true, customValues: p.ticks, length: 9, lineStyle: { color: BOX_COLOR, width: 1.5 } },
      axisLabel: {
        show: true,
        customValues: p.labels,
        rotate: 90,
        margin: 17,
        ...tickLabel,
        formatter: (v: number) => v.toFixed(p.decimals),
      },
      splitLine: { show: true, lineStyle: { color: GRID_COLOR, type: [2, 3], width: 1 } },
    };
  });

  // draw order: storm day 4 first, then storm day 2, baseflow on top
  const order = [2, 1, 0];
  const series: any[] = [];
  panels.forEach((p, i) => {
    order.forEach((k, j) => {
      series.push({
        type: "scatter",
        name: SERIES_NAMES[k],
        xAxisIndex: i,
        yAxisIndex: i,
        data: p.series[k],
        symbol: "circle",
        symbolSize: 8,
        itemStyle: { color: COLORS[k], opacity: 1 },
        silent: true,
        z: 3 + j,
        markLine:
          j === 0
            ? {
                silent: true,
                symbol: ["none", "none"],
                label: { show: false },
                lineStyle: { color: "#000", type: [9, 6], width: 2 },
                data: [{ xAxis: DAM_KM }],
              }
            : undefined,
      });
    });
  });

  const titleFont = `bold 30px "${FONT}"`;
  const graphic: any[] = [];
  panels.forEach((p) => {
    if (p.title) {
      graphic.push({
        type: "text",
        x: p.box.left + p.box.width / 2,
        y: p.titleY,
        style: { text: p.title, font: titleFont, fill: "#000", textAlign: "center", textVerticalAlign: "middle" },
      });
    }
    if (p.bottom) {
      graphic.push({
        type: "text",
        x: p.box.left + p.box.width / 2,
        y: 1008,
        style: { text: "Distance (km)", font: `bold 26px "${FONT}"`, fill: "#000", textAlign: "center", textVerticalAlign: "middle" },
      });
    }
  });

  // NO3- title with subscript and superscript
  const no3 = panels[3];
  graphic.push(
    { type: "text", x: 881, y: no3.titleY, style: { text: "NO", font: titleFont, fill: "#000", textAlign: "left", textVerticalAlign: "middle" } },
    { type: "text", x: 926, y: no3.titleY + 10, style: { text: "3", font: `bold 20px "${FONT}"`, fill: "#000", textAlign: "left", textVerticalAlign: "middle" } },
    { type: "text", x: 936, y: no3.titleY - 9, style: { text: "-", font: `bold 20px "${FONT}"`, fill: "#000", textAlign: "left", textVerticalAlign: "middle" } },
    { type: "text", x: 947, y: no3.titleY, style: { text: "(mg/L)", font: titleFont, fill: "#000", textAlign: "left", textVerticalAlign: "middle" } }
  );

  // "Dam" annotation with arrow
  graphic.push(
    { type: "text", x: 471, y: 241, style: { text: "Dam", font: `bold 25px "${FONT}"`, fill: "#000", textAlign: "center", textVerticalAlign: "middle" } },
    { type: "line", shape: { x1: 505, y1: 233, x2: 535, y2: 220 }, style: { stroke: "#000", lineWidth: 2.2 } },
    { type: "polyline", shape: { points: [[526.5, 218.6], [535, 220], [529.8, 227]] }, style: { stroke: "#000", lineWidth: 2.2, fill: null } }
  );

  return {
    animation: false,
    backgroundColor: "#ffffff",
    textStyle: { fontFamily: FONT },
    grid,
    xAxis,
    yAxis,
    series,
    legend: {
      data: SERIES_NAMES,
      orient: "vertical",
      left: 994,
      top: 75,
      icon: "circle",
      itemWidth: 24,
      itemHeight: 9,
      itemGap: 7,
      selectedMode: false,
      textStyle: { fontFamily: FONT, fontWeight: "bold", fontSize: 25, color: "#000", lineHeight: 25 },
    },
    graphic,
  };
}

export default function App() {
  const ref = useRef<HTMLDivElement>(null);
  useEffect(() => {
    if (!ref.current) return;
    const chart = echarts.init(ref.current, undefined, { renderer: "svg" });
    chart.setOption(buildOption());
    return () => chart.dispose();
  }, []);
  return (
    <div
      ref={ref}
      style={{ position: "absolute", left: 0, top: 0, width: 1225, height: 1025, background: "#fff" }}
    />
  );
}
